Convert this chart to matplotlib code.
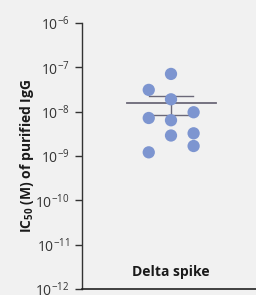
import numpy as np
import matplotlib
matplotlib.use("Agg")
from matplotlib import pyplot as plt
from matplotlib.ticker import FixedLocator, FuncFormatter

plt.rcParams['font.family'] = ['Open Sans', 'DejaVu Sans']
plt.rcParams['mathtext.fontset'] = 'custom'
plt.rcParams['mathtext.rm'] = 'Open Sans'
plt.rcParams['mathtext.bf'] = 'Open Sans:bold'

# data
category = 'Delta spike'
ic50 = [7.1e-8, 3.1e-8, 1.9e-8, 9.7e-9, 7.2e-9, 6.4e-9, 3.25e-9, 2.9e-9, 1.68e-9, 1.21e-9]
jitter = [0.0, -0.125, 0.0, 0.127, -0.125, 0.0, 0.127, 0.0, 0.127, -0.125]
y_exps = [-12, -11, -10, -9, -8, -7, -6]

mean = np.mean(ic50)
sem = np.std(ic50, ddof=1) / np.sqrt(len(ic50))

bg = '#f1f1f1'
fig = plt.figure(figsize=(2.56, 2.95), dpi=100, facecolor=bg)
ax = fig.add_axes([82/256, 1 - 289/295, 174/256, 266/295], facecolor=bg)

ax.scatter(jitter, ic50, s=78, color='#7d95d0', edgecolor='none', zorder=3)

line_c = '#6b6878'
ax.plot([-0.25, 0.25], [mean, mean], color=line_c, lw=1.3, zorder=2)
ax.plot([0, 0], [mean - sem, mean + sem], color=line_c, lw=1.0, zorder=2)
ax.plot([-0.125, 0.125], [mean + sem, mean + sem], color=line_c, lw=1.0, zorder=2)
ax.plot([-0.125, 0.125], [mean - sem, mean - sem], color=line_c, lw=1.0, zorder=2)

ax.set_yscale('log')
ax.set_ylim(1e-12, 1e-6)
ax.set_xlim(-0.5, 85/178)
ax.yaxis.set_major_locator(FixedLocator([10.0**e for e in y_exps]))
ax.yaxis.set_minor_locator(FixedLocator([]))
ax.yaxis.set_major_formatter(FuncFormatter(lambda v, p: r'$10^{%d}$' % round(np.log10(v))))
ax.tick_params(axis='y', length=5, width=1, color='#333333', labelsize=10,
               labelcolor='#333333', pad=4)
ax.set_xticks([])

for s in ['top', 'right']:
    ax.spines[s].set_visible(False)
ax.spines['left'].set_color('#333333')
ax.spines['bottom'].set_color('#222222')
ax.spines['left'].set_linewidth(1)
ax.spines['bottom'].set_linewidth(1.2)

ax.text(0, 10**-11.62, category, ha='center', va='center', fontsize=10,
        fontweight='bold', color='#1a1a1a')

ax.set_ylabel(r'IC$_{\mathbf{50}}$ (M) of purified IgG', fontsize=10,
              fontweight='bold', color='#1a1a1a', labelpad=0)
ax.yaxis.set_label_coords(-46/174, 0.5)

fig.savefig('out.png', dpi=100, facecolor=bg)
